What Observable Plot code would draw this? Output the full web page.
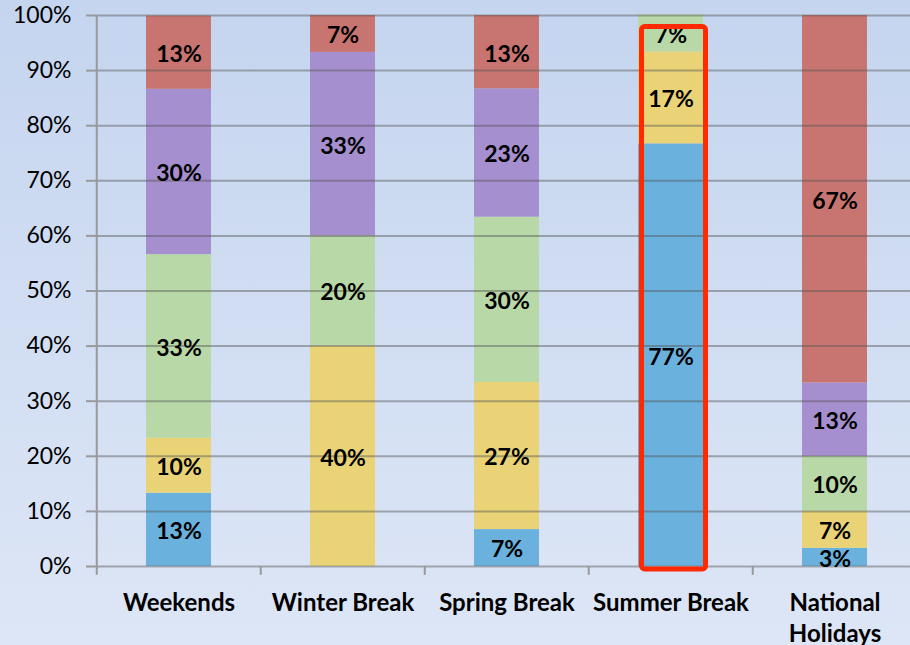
<!DOCTYPE html>
<html>
<head>
<meta charset="utf-8">
<script src="https://cdn.jsdelivr.net/npm/d3@7"></script>
<script src="https://cdn.jsdelivr.net/npm/@observablehq/plot@0.6"></script>
<style>
  html, body { margin: 0; padding: 0; background: #d3def2; }
  #chart svg { display: block; }
</style>
</head>
<body>
<div id="chart"></div>
<script>
const categories = ["Weekends", "Winter Break", "Spring Break", "Summer Break", "National Holidays"];
const tickLabels = ["Weekends", "Winter Break", "Spring Break", "Summer Break", "National\nHolidays"];
const series = ["Series 1", "Series 2", "Series 3", "Series 4", "Series 5"];
const colors = ["#6ab1de", "#e9d376", "#b8d9a7", "#a68fcf", "#c87572"];
const series1 = [13.3, 0, 6.7, 76.7, 3.3];
const series2 = [10, 40, 26.7, 16.7, 6.7];
const series3 = [33.3, 20, 30, 6.7, 10];
const series4 = [30, 33.3, 23.3, 0, 13.3];
const series5 = [13.3, 6.7, 13.3, 0, 66.7];
const yTicks = [0, 10, 20, 30, 40, 50, 60, 70, 80, 90, 100];
const highlight = "Summer Break";

const values = [series1, series2, series3, series4, series5];
const data = categories.flatMap((c, i) =>
  series.map((s, j) => ({category: c, series: s, value: values[j][i]})));

const xRange = [95, 917.5];
const step = (xRange[1] - xRange[0]) / categories.length;
const font = "Lato, 'Open Sans', sans-serif";

const chart = Plot.plot({
  width: 910,
  height: 645,
  marginTop: 15,
  marginBottom: 79,
  marginLeft: 95,
  marginRight: 0,
  style: {
    background: "linear-gradient(#c5d5ef, #dde6f6)",
    fontFamily: font,
    fontSize: "23px",
    color: "#000",
    overflow: "visible"
  },
  x: {domain: categories, range: xRange, paddingInner: 0.605, paddingOuter: 0.3025, axis: null, label: null},
  y: {domain: [0, 100], axis: null, label: null},
  color: {domain: series, range: colors},
  marks: [
    Plot.barY(data, {x: "category", y: "value", fill: "series"}),
    Plot.gridY(yTicks, {stroke: "#555", strokeOpacity: 0.45, strokeWidth: 2}),
    Plot.axisY(yTicks, {
      label: null,
      tickSize: 9, tickPadding: 15, tickFormat: d => d + "%",
      stroke: "#999", strokeWidth: 2, fill: "#000", fontSize: 23, fontFamily: font
    }),
    Plot.ruleX([categories[0]], {x: d => d, dx: -step / 2, y1: -1.6, y2: 100, stroke: "#999", strokeWidth: 2}),
    Plot.ruleX(categories.slice(1), {x: d => d, dx: -step / 2, y1: -1.6, y2: 0, stroke: "#999", strokeWidth: 2}),
    Plot.axisX({
      label: null,
      tickSize: 0, tickPadding: 22, lineHeight: 1.3,
      tickFormat: d => tickLabels[categories.indexOf(d)],
      fontWeight: "bold", fontSize: 24, fontFamily: font, fill: "#000"
    }),
    Plot.text(data.filter(d => d.value > 0), Plot.stackY({
      x: "category", y: "value", z: "series",
      text: d => Math.round(d.value) + "%",
      fontWeight: "bold", fontSize: 23, fontFamily: font, fill: "#000", dy: 2
    })),
    Plot.barY([highlight], {
      x: d => d, y1: -0.54, y2: 97.9,
      fill: "none", stroke: "#ff2a00", strokeWidth: 5,
      insetLeft: 3.5, insetRight: -2.5, rx: 3
    })
  ]
});
document.getElementById("chart").appendChild(chart);
</script>
</body>
</html>
